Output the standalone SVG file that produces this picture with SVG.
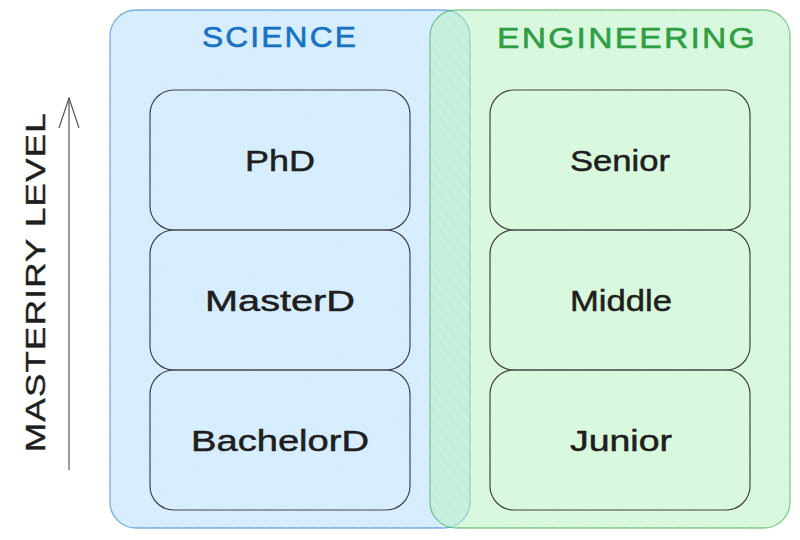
<svg xmlns="http://www.w3.org/2000/svg" width="800" height="540" viewBox="0 0 800 540">
  <defs>
    <marker id="openArrow" viewBox="0 0 31 22" refX="30" refY="11" markerWidth="31" markerHeight="22" markerUnits="userSpaceOnUse" orient="auto">
      <path d="M0,1 L30,11 L0,21" fill="none" stroke="#555" stroke-width="1.2"/>
    </marker>
    <pattern id="hatch" width="8" height="8" patternUnits="userSpaceOnUse" patternTransform="rotate(-40)">
      <line x1="0" y1="0" x2="0" y2="8" stroke="#ffffff" stroke-width="1" stroke-opacity="0.35"/>
    </pattern>
  </defs>
  <style>
    .zone-sci { fill: #a5d8ff; fill-opacity: 0.45; stroke: #1971c2; stroke-opacity: 0.55; stroke-width: 1.3; }
    .zone-eng { fill: #b2f2bb; fill-opacity: 0.5; stroke: #2f9e44; stroke-opacity: 0.55; stroke-width: 1.3; }
    .hatch { fill: url(#hatch); stroke: none; }
    .node rect { fill: none; stroke: #444; stroke-width: 1.2; }
    .label { font-family: "Liberation Sans", "DejaVu Sans", sans-serif; font-size: 30px; fill: #1e1e1e; stroke: #1e1e1e; stroke-width: 0.5; text-anchor: middle; dominant-baseline: central; }
    .title { font-family: "Liberation Sans", "DejaVu Sans", sans-serif; font-size: 30px; text-anchor: middle; dominant-baseline: central; letter-spacing: 2px; stroke-width: 0.6; }
    .axis-label { font-family: "Liberation Sans", "DejaVu Sans", sans-serif; font-size: 28px; fill: #1e1e1e; stroke: #1e1e1e; stroke-width: 0.4; text-anchor: middle; dominant-baseline: central; letter-spacing: 1px; }
  </style>

  <g id="science-zone">
    <rect class="zone-sci" x="110" y="10" width="360" height="518" rx="26"/>
    <rect class="hatch" x="110" y="10" width="360" height="518" rx="26"/>
    <text class="title" x="280" y="36" fill="#1971c2" stroke="#1971c2" textLength="156" lengthAdjust="spacingAndGlyphs">SCIENCE</text>
  </g>

  <g id="engineering-zone">
    <rect class="zone-eng" x="430" y="10" width="360" height="518" rx="26"/>
    <rect class="hatch" x="430" y="10" width="360" height="518" rx="26"/>
    <text class="title" x="627" y="37" fill="#2f9e44" stroke="#2f9e44" textLength="260" lengthAdjust="spacingAndGlyphs">ENGINEERING</text>
  </g>

  <g id="node-phd" class="node">
    <rect x="150" y="90" width="260" height="140" rx="24"/>
    <text class="label" x="280" y="160" textLength="70" lengthAdjust="spacingAndGlyphs">PhD</text>
  </g>
  <g id="node-masterd" class="node">
    <rect x="150" y="230" width="260" height="140" rx="24"/>
    <text class="label" x="280" y="300" textLength="150" lengthAdjust="spacingAndGlyphs">MasterD</text>
  </g>
  <g id="node-bachelord" class="node">
    <rect x="150" y="370" width="260" height="140" rx="24"/>
    <text class="label" x="280" y="440" textLength="178" lengthAdjust="spacingAndGlyphs">BachelorD</text>
  </g>

  <g id="node-senior" class="node">
    <rect x="490" y="90" width="260" height="140" rx="24"/>
    <text class="label" x="620" y="160" textLength="100" lengthAdjust="spacingAndGlyphs">Senior</text>
  </g>
  <g id="node-middle" class="node">
    <rect x="490" y="230" width="260" height="140" rx="24"/>
    <text class="label" x="621" y="300" textLength="102" lengthAdjust="spacingAndGlyphs">Middle</text>
  </g>
  <g id="node-junior" class="node">
    <rect x="490" y="370" width="260" height="140" rx="24"/>
    <text class="label" x="621" y="440" textLength="102" lengthAdjust="spacingAndGlyphs">Junior</text>
  </g>

  <g id="connectors">
    <line x1="69" y1="470" x2="69" y2="98" stroke="#555" stroke-width="1.2" marker-end="url(#openArrow)"/>
  </g>

  <g id="axis-label">
    <text class="axis-label" x="35" y="282" transform="rotate(-90 35 282)" textLength="340" lengthAdjust="spacingAndGlyphs">MASTERIRY LEVEL</text>
  </g>
</svg>
